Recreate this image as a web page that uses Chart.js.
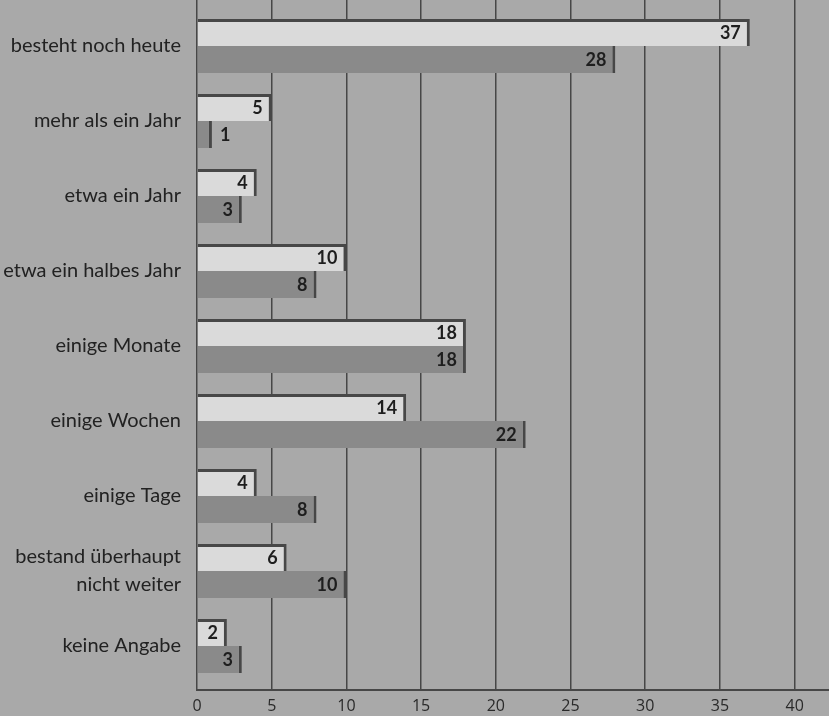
<!DOCTYPE html>
<html>
<head>
<meta charset="utf-8">
<script src="https://cdn.jsdelivr.net/npm/chart.js@4.4.0/dist/chart.umd.min.js"></script>
<style>
  html, body { margin: 0; padding: 0; background: #a9a9a9; }
  #wrap { width: 829px; height: 716px; position: relative; }
</style>
</head>
<body>
<div id="wrap"><canvas id="chart"></canvas></div>
<script>
// categories and values
var categories = [
    'besteht noch heute',
    'mehr als ein Jahr',
    'etwa ein Jahr',
    'etwa ein halbes Jahr',
    'einige Monate',
    'einige Wochen',
    'einige Tage',
    ['bestand überhaupt', 'nicht weiter'],
    'keine Angabe'
];
var lightValues = [37, 5, 4, 10, 18, 14, 4, 6, 2];
var darkValues = [28, 1, 3, 8, 18, 22, 8, 10, 3];
var xTicks = [0, 5, 10, 15, 20, 25, 30, 35, 40];

var lineColor = '#474747';

function points(values) {
    return values.map(function(v, i) { return { x: v, y: i }; });
}

// value numbers inside the bar ends
var valueLabels = {
    id: 'valueLabels',
    afterDatasetsDraw: function(chart) {
        var ctx = chart.ctx;
        ctx.save();
        ctx.font = 'bold 18px Lato';
        ctx.fillStyle = '#1e1e1e';
        ctx.textAlign = 'right';
        ctx.textBaseline = 'middle';
        chart.data.datasets.forEach(function(ds, di) {
            chart.getDatasetMeta(di).data.forEach(function(bar, i) {
                var txt = String(ds.data[i].x);
                var w = ctx.measureText(txt).width;
                var x = bar.x - 9;
                if (x - w < bar.base + 3) {
                    ctx.textAlign = 'left';
                    ctx.fillText(txt, bar.x + 8, bar.y + 1);
                    ctx.textAlign = 'right';
                } else {
                    ctx.fillText(txt, x, bar.y + 1);
                }
            });
        });
        ctx.restore();
    }
};

var ctx = document.getElementById('chart').getContext('2d');
var myChart = new Chart(ctx, {
    type: 'bar',
    data: {
        datasets: [{
            data: points(lightValues),
            backgroundColor: '#dadada',
            borderColor: lineColor,
            borderWidth: { top: 3, right: 3, bottom: 0, left: 0 },
            borderSkipped: false,
            categoryPercentage: 0.72,
            barPercentage: 1
        }, {
            data: points(darkValues),
            backgroundColor: '#8a8a8a',
            borderColor: lineColor,
            borderWidth: { top: 0, right: 3, bottom: 0, left: 0 },
            borderSkipped: false,
            categoryPercentage: 0.72,
            barPercentage: 1
        }]
    },
    options: {
        indexAxis: 'y',
        responsive: true,
        maintainAspectRatio: false,
        animation: false,
        layout: { padding: 0 },
        plugins: {
            legend: { display: false },
            tooltip: { enabled: false }
        },
        scales: {
            x: {
                type: 'linear',
                min: 0,
                max: 42.3,
                afterBuildTicks: function(axis) {
                    axis.ticks = xTicks.map(function(v) { return { value: v }; });
                },
                afterFit: function(axis) { axis.height = 26; },
                grid: { color: lineColor, lineWidth: 1.5, drawTicks: false },
                border: { color: lineColor, width: 2 },
                ticks: {
                    padding: 7,
                    color: '#2a2a2a',
                    font: { family: '"Open Sans"', size: 16 }
                }
            },
            y: {
                type: 'linear',
                offset: false,
                reverse: true,
                min: -0.613,
                max: 8.587,
                afterBuildTicks: function(axis) {
                    axis.ticks = categories.map(function(c, i) { return { value: i }; });
                },
                afterFit: function(axis) {
                    axis.width = 197;
                    axis.paddingTop = 0;
                    axis.paddingBottom = 0;
                },
                grid: { display: false, offset: false },
                border: { display: false },
                ticks: {
                    padding: 8,
                    color: '#222222',
                    font: { family: 'Lato', size: 20, lineHeight: 1.4 },
                    callback: function(v) { return categories[v]; }
                }
            }
        }
    },
    plugins: [valueLabels]
});
</script>
</body>
</html>
